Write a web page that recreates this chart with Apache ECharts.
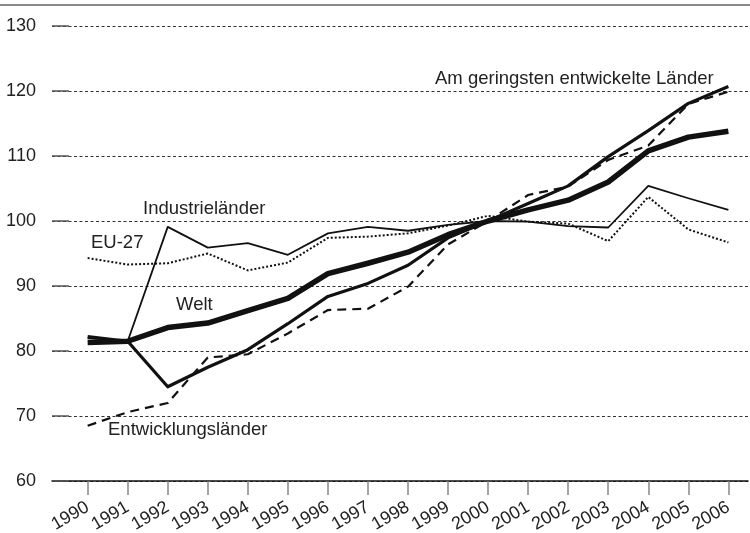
<!DOCTYPE html>
<html>
<head>
<meta charset="utf-8">
<script src="https://cdn.jsdelivr.net/npm/echarts@6/dist/echarts.min.js"></script>
<style>
  html, body { margin: 0; padding: 0; background: #fff; }
  #chart { width: 750px; height: 533px; }
</style>
</head>
<body>
<div id="chart"></div>
<script>
var years = [1990, 1991, 1992, 1993, 1994, 1995, 1996, 1997, 1998, 1999, 2000, 2001, 2002, 2003, 2004, 2005, 2006];
var welt = [81.3, 81.5, 83.6, 84.3, 86.2, 88.1, 91.9, 93.5, 95.2, 97.9, 100, 101.7, 103.2, 106.0, 110.8, 112.9, 113.8];
var amGeringsten = [82.2, 81.5, 74.5, 77.5, 80.2, 84.2, 88.4, 90.4, 93.2, 97.4, 100, 102.7, 105.4, 109.9, 113.9, 118.1, 120.7];
var industrie = [82.0, 81.5, 99.1, 95.9, 96.6, 94.8, 98.1, 99.1, 98.5, 99.4, 100, 99.9, 99.2, 99.0, 105.4, 103.5, 101.7];
var eu27 = [94.3, 93.3, 93.5, 95.0, 92.4, 93.6, 97.4, 97.6, 98.1, 99.3, 100.8, 99.9, 99.6, 96.9, 103.7, 98.7, 96.7];
var entwicklung = [68.5, 70.6, 72.0, 79.0, 79.5, 82.7, 86.3, 86.5, 89.9, 96.4, 100, 104.0, 105.3, 109.4, 111.6, 118.0, 119.9];

function pairs(vals) {
    return years.map(function (y, i) { return [y, vals[i]]; });
}

var font = 'Liberation Sans, Arial, sans-serif';
var myChart = echarts.init(document.getElementById('chart'));

// one helper for the line series, they only differ by width / dash
function line(name, vals, width, dash) {
    return {
        name: name,
        type: 'line',
        data: pairs(vals),
        symbol: 'none',
        lineStyle: { color: '#111', width: width, type: dash || 'solid', cap: 'butt', join: 'round' },
        z: 3
    };
}

var labelFont = '18.5px ' + font;

var option = {
    backgroundColor: '#fff',
    animation: false,
    grid: { left: 52, right: 2, top: 26, bottom: 52, outerBoundsMode: 'none', containLabel: false },
    xAxis: {
        type: 'value',
        min: 1989.11,
        max: 2006.49,
        axisLine: { show: true, lineStyle: { color: '#111', width: 1.5 } },
        axisTick: { show: true, customValues: years, length: 14, lineStyle: { color: '#888', width: 1.5 } },
        axisLabel: {
            customValues: years,
            rotate: 30,
            margin: 25,
            fontSize: 18,
            fontFamily: font,
            color: '#222',
            formatter: function (v) { return String(v); }
        },
        splitLine: { show: false }
    },
    yAxis: {
        type: 'value',
        min: 60,
        max: 130,
        interval: 10,
        axisLine: { show: false },
        axisTick: { show: true, inside: true, length: 17, lineStyle: { color: '#555', width: 1.5 } },
        axisLabel: { margin: 16, fontSize: 18, fontFamily: font, color: '#222' },
        splitLine: { show: true, lineStyle: { color: '#333', width: 1, type: [3, 2.5] } }
    },
    series: [
        line('EU-27', eu27, 2, [2, 2]),
        line('Entwicklungsländer', entwicklung, 2.2, [9, 6]),
        line('Industrieländer', industrie, 1.8),
        line('Am geringsten entwickelte Länder', amGeringsten, 3.2),
        line('Welt', welt, 5.5)
    ],
    graphic: [
        { type: 'rect', shape: { x: 0, y: 4, width: 750, height: 2 }, style: { fill: '#888' } },
        { type: 'text', left: 435, top: 69.5, style: { text: 'Am geringsten entwickelte Länder', font: labelFont, fill: '#222' } },
        { type: 'text', left: 143, top: 199.5, style: { text: 'Industrieländer', font: labelFont, fill: '#222' } },
        { type: 'text', left: 91, top: 233.5, style: { text: 'EU-27', font: labelFont, fill: '#222' } },
        { type: 'text', left: 176, top: 295.5, style: { text: 'Welt', font: labelFont, fill: '#222' } },
        { type: 'text', left: 108, top: 420.5, style: { text: 'Entwicklungsländer', font: labelFont, fill: '#222' } }
    ]
};
myChart.setOption(option);
</script>
</body>
</html>
